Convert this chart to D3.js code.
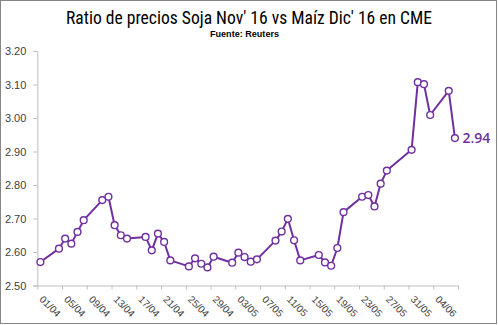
<!DOCTYPE html>
<html><head><meta charset="utf-8">
<script src="https://cdn.jsdelivr.net/npm/d3@7"></script>
<style>
html,body{margin:0;padding:0;background:#fff;}
svg{display:block;}
</style></head>
<body>
<svg id="chart" width="498" height="325"></svg>
<script>
const title = "Ratio de precios Soja Nov' 16 vs Maíz Dic' 16 en CME";
const subtitle = "Fuente: Reuters";
const dates = ["2016-04-01","2016-04-04","2016-04-05","2016-04-06","2016-04-07","2016-04-08",
"2016-04-11","2016-04-12","2016-04-13","2016-04-14","2016-04-15",
"2016-04-18","2016-04-19","2016-04-20","2016-04-21","2016-04-22",
"2016-04-25","2016-04-26","2016-04-27","2016-04-28","2016-04-29",
"2016-05-02","2016-05-03","2016-05-04","2016-05-05","2016-05-06",
"2016-05-09","2016-05-10","2016-05-11","2016-05-12","2016-05-13",
"2016-05-16","2016-05-17","2016-05-18","2016-05-19","2016-05-20",
"2016-05-23","2016-05-24","2016-05-25","2016-05-26","2016-05-27",
"2016-05-31","2016-06-01","2016-06-02","2016-06-03",
"2016-06-06","2016-06-07"];
const values = [2.57,2.61,2.64,2.625,2.66,2.695,
2.755,2.765,2.68,2.65,2.64,
2.645,2.605,2.655,2.63,2.575,
2.557,2.581,2.565,2.554,2.586,
2.568,2.598,2.585,2.571,2.578,
2.634,2.661,2.699,2.635,2.575,
2.591,2.569,2.559,2.612,2.719,
2.765,2.770,2.736,2.804,2.843,
2.905,3.107,3.101,3.009,
3.081,2.94];
const yTicks = [2.5,2.6,2.7,2.8,2.9,3.0,3.1,3.2];
const xTickDates = ["2016-04-01","2016-04-05","2016-04-09","2016-04-13","2016-04-17","2016-04-21",
"2016-04-25","2016-04-29","2016-05-03","2016-05-07","2016-05-11","2016-05-15","2016-05-19",
"2016-05-23","2016-05-27","2016-05-31","2016-06-04","2016-06-08"];
const xTickLabels = ["01/04","05/04","09/04","13/04","17/04","21/04","25/04","29/04","03/05",
"07/05","11/05","15/05","19/05","23/05","27/05","31/05","04/06",""];
const lastLabel = "2.94";

const parse = d3.utcParse("%Y-%m-%d");
const DAY = 864e5;
const svg = d3.select("#chart");
const purple = "#7030A0";
const axisCol = "#bfbfbf";
const textCol = "#404040";

// border
svg.append("rect").attr("x",0.5).attr("y",0.5).attr("width",496).attr("height",323)
  .attr("fill","#fff").attr("stroke","#868686").attr("stroke-width",1);

const x = d3.scaleUtc().domain([parse("2016-04-01"), parse("2016-06-08")]).range([37.3, 458]);
const y = d3.scaleLinear().domain([2.5, 3.2]).range([285.5, 51]);

// title
svg.append("text").attr("x",249).attr("y",23.5).attr("text-anchor","middle")
  .attr("font-family","'Liberation Sans Narrow','Roboto Condensed','Liberation Sans',sans-serif")
  .attr("font-size",18).attr("fill","#000").attr("textLength",366).attr("lengthAdjust","spacingAndGlyphs")
  .text(title);
svg.append("text").attr("x",244.5).attr("y",36.5).attr("text-anchor","middle")
  .attr("font-family","'Liberation Sans Narrow','Liberation Sans',sans-serif")
  .attr("font-size",9).attr("font-weight","bold").attr("fill","#000")
  .attr("textLength",69).attr("lengthAdjust","spacingAndGlyphs")
  .text(subtitle);

// y axis
const yAxis = d3.axisLeft(y).tickValues(yTicks).tickFormat(d3.format(".2f")).tickSize(4).tickPadding(7);
const gy = svg.append("g").attr("transform","translate(37.3,0)").call(yAxis);
gy.select(".domain").attr("stroke",axisCol);
gy.selectAll(".tick line").attr("stroke",axisCol);
gy.selectAll(".tick text").attr("font-family","'Liberation Sans',Arial,sans-serif").attr("font-size",11).attr("fill",textCol);

// x axis
const tv = xTickDates.map(parse);
const xAxis = d3.axisBottom(x).tickValues(tv).tickSize(4).tickSizeOuter(0)
  .tickFormat((d,i)=>xTickLabels[i]);
const gx = svg.append("g").attr("transform","translate(0,285.5)").call(xAxis);
gx.select(".domain").attr("stroke",axisCol);
gx.selectAll(".tick line").attr("stroke",axisCol);
gx.selectAll(".tick text")
  .attr("font-family","'Liberation Sans',Arial,sans-serif").attr("font-size",10).attr("fill",textCol)
  .attr("text-anchor","start").attr("dy",null).attr("y",0)
  .attr("transform","translate(1,14.5) rotate(45)");

// line
const pts = dates.map((d,i)=>({date:new Date(parse(d).getTime()+DAY/2), v:values[i]}));
const line = d3.line().x(d=>x(d.date)).y(d=>y(d.v));
svg.append("path").datum(pts).attr("d",line).attr("fill","none")
  .attr("stroke",purple).attr("stroke-width",2).attr("stroke-linejoin","round");
svg.append("g").selectAll("circle").data(pts).join("circle")
  .attr("cx",d=>x(d.date)).attr("cy",d=>y(d.v)).attr("r",3.4)
  .attr("fill","#fff").attr("stroke",purple).attr("stroke-width",1.4);

const last = pts[pts.length-1];
svg.append("text").attr("x",x(last.date)+7.5).attr("y",y(last.v)+5)
  .attr("font-family","'Open Sans',Calibri,sans-serif").attr("font-size",14).attr("font-weight",600)
  .attr("fill",purple).text(lastLabel);
</script>
</body></html>
